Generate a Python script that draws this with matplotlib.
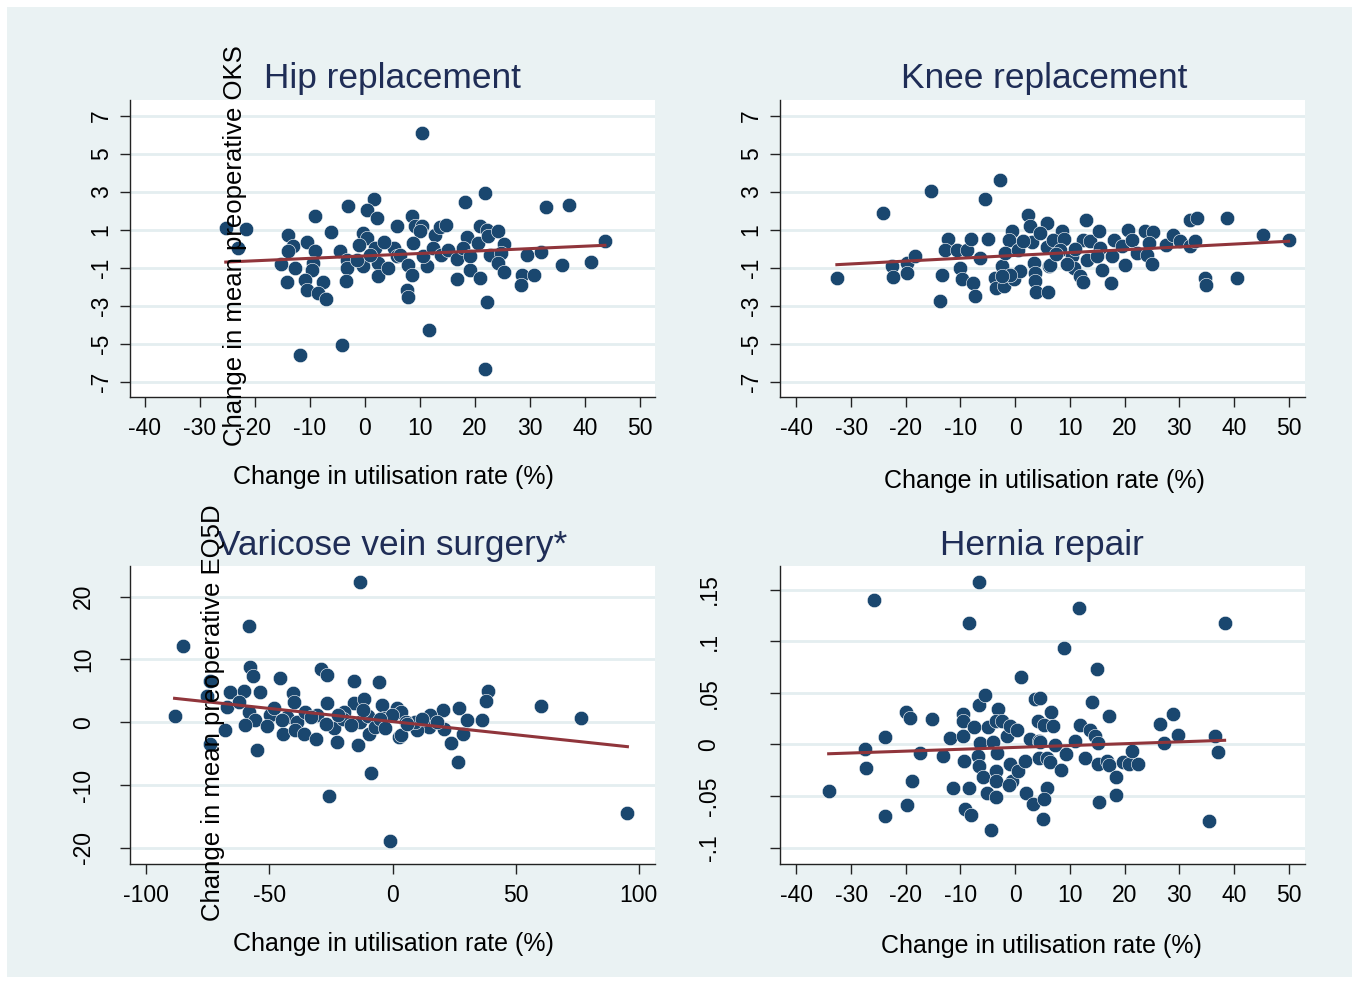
import numpy as np
import matplotlib
matplotlib.use("Agg")
import matplotlib.pyplot as plt
from matplotlib.patches import Rectangle

plt.rcParams['font.family'] = ['Liberation Sans', 'DejaVu Sans']

# ---- data ----
hip_x = [-25.3, -21.6, -23.1, -9.1, -3.0, 1.6, 0.3, 2.2, -6.2, -13.9, -13.0, -13.9, -15.2, -12.7,
         -10.5, -9.1, -9.4, -9.7, -14.1, -10.9, -10.6, -7.7, -8.5, -7.0, -11.8, -4.1, -4.5, -3.3,
         -3.3, -3.5, -0.3, 0.4, 1.8, 2.4, -0.3, -1.5, 2.4, 5.8, 5.2, 5.8,
         10.3, 21.8, 18.2, 32.9, 37.1, 43.6, 8.5, 9.1, 10.3, 10.0, 8.8, 6.4, 7.9, 8.5, 11.2, 10.6,
         7.6, 7.9, 11.7, 12.7, 13.6, 14.7, 12.4, 13.9, 15.0, 16.8, 16.8, 18.6, 17.8, 19.1, 19.0,
         20.9, 22.1, 20.6, 22.4, 22.7, 20.9, 22.1, 21.8, 24.2, 25.2, 24.8, 24.2, 25.2, 29.5, 31.9,
         28.5, 28.4, 30.8, 35.8, 41.1, 3.5, 1.0, 4.2, -1.0]
hip_y = [1.09, 1.05, 0.04, 1.73, 2.26, 2.61, 2.05, 1.61, 0.88, 0.74, 0.12, -0.14, -0.78, -1.01,
         0.35, -0.14, -0.75, -1.10, -1.76, -1.66, -2.15, -1.76, -2.32, -2.67, -5.61, -5.04, -0.14,
         -0.57, -1.0, -1.71, 0.83, 0.56, 0.04, -0.75, -0.93, -0.57, -1.45, 1.17, 0.04, -0.40,
         6.11, 2.93, 2.43, 2.17, 2.31, 0.42, 1.73, 1.17, 1.21, 0.91, 0.30, -0.31, -0.84, -1.36,
         -0.93, -0.40, -2.19, -2.55, -4.25, 0.74, 1.12, 1.26, 0.04, -0.31, -0.09, -0.54, -1.59,
         0.62, 0.04, -0.40, -1.10, 1.21, 1.0, 0.30, 0.65, -0.31, -1.54, -2.82, -6.31, 0.95, 0.25,
         -0.22, -0.75, -1.24, -0.31, -0.19, -1.40, -1.89, -1.36, -0.87, -0.71, 0.35, -0.35, -1.0,
         0.2]

knee_x = [-32.6, -24.2, -22.5, -22.4, -19.8, -19.8, -18.3, -15.4, -13.4, -13.8, -12.2, -12.9,
          -10.7, -8.8, -8.1, -10.1, -9.7, -7.7, -7.3, -6.5, -5.6, -2.7, -5.0, -3.7, -3.5, -2.4,
          -2.1, -0.6, -1.2, -1.8, -0.3, 0.6, 2.3, 2.7, 3.0, 3.4, 3.7, 3.7, 3.8, 5.8, 5.8, 6.1,
          6.0, 0.9, -0.9, -2.4,
          8.5, 7.0, 9.0, 8.2, 6.4, 10.4, 10.7, 11.9, 12.4, 13.0, 12.4, 13.7, 13.1, 15.4, 15.5,
          14.9, 15.8, 17.5, 18.1, 17.7, 19.5, 20.1, 20.7, 21.3, 22.2, 23.8, 25.2, 24.4, 24.1,
          25.0, 27.6, 28.9, 30.2, 31.9, 32.9, 31.9, 33.3, 38.7, 34.7, 34.9, 40.5, 45.4, 50.0,
          7.5, 9.5, 11.0, 4.5, 1.5]
knee_y = [-1.54, 1.87, -0.93, -1.49, -0.75, -1.28, -0.40, 3.01, -1.40, -2.76, 0.53, -0.05,
          -0.05, -0.05, 0.51, -1.01, -1.62, -1.83, -2.50, -0.49, 2.63, 3.62, 0.53, -1.54, -2.06,
          -0.93, -1.97, 0.95, 0.48, -0.22, -1.62, -0.05, 1.79, 1.21, 0.33, -0.75, -1.28, -1.71,
          -2.27, 1.35, 0.10, -0.93, -2.27, -1.19, -1.36, -1.45,
          0.91, 0.48, 0.51, -0.05, -0.84, -0.40, -1.01, -1.45, -1.76, 1.52, 0.48, 0.39, -0.57,
          0.95, 0.04, -0.40, -1.10, -1.80, 0.48, -0.40, 0.12, -0.84, 1.0, 0.48, -0.22, 0.91, 0.88,
          0.30, -0.31, -0.78, 0.21, 0.74, 0.39, 0.12, 0.42, 1.49, 1.61, 1.61, -1.54, -1.89, -1.54,
          0.70, 0.48, -0.3, -0.8, 0.0, 0.8, 0.4]

vein_x = [-13.0, -58.4, -85.2, -88.5, -74.0, -75.3, -74.0, -67.9, -66.1, -67.2, -58.0, -56.6,
          -60.4, -53.7, -62.5, -58.4, -55.7, -59.8, -55.0, -49.6, -48.0, -45.5, -40.4, -39.8,
          -42.8, -38.7, -44.4, -39.7, -35.8, -35.4, -30.9, -29.0, -26.8, -30.6, -26.5, -23.9,
          -22.5, -25.9, -15.7, -15.7, -11.7, -13.9, -5.6, -8.9, -13.0, -9.6, -4.2, -1.2, -19.8,
          -3.5, 1.9, 2.6,
          38.7, 38.1, 60.4, 76.4, 95.4, 20.4, 27.2, 30.4, 36.2, 28.7, 23.6, 26.5, 20.9, 15.4,
          14.8, 9.8, 9.3, 3.3, 3.3, 5.3, -0.1, 18.2,
          -20.0, -17.0, -10.0, -7.0, -5.0, -3.0, -12.0, -22.0, -27.0, -33.0, -45.0, -51.0, 6.0,
          12.0]
vein_y = [22.3, 15.4, 12.2, 1.05, 6.5, 4.1, -3.4, -1.3, 4.8, 2.5, 8.8, 7.3, 4.9, 4.8, 3.3, 1.7,
          0.4, -0.4, -4.4, 1.2, 2.2, 7.1, 4.6, 3.2, 0.9, 0.1, -1.9, -1.3, -1.8, 1.7, -2.7, 8.5,
          7.5, 1.2, 3.0, -1.0, -3.2, -11.8, 6.5, 3.0, 3.7, -3.7, 6.4, -8.1, 0.1, -1.8, 2.8, -19.0,
          1.7, 0.6, 2.2, -2.3,
          4.9, 3.4, 2.6, 0.6, -14.4, 2.0, 2.2, 0.4, 0.4, -1.8, -3.3, -6.3, -1.1, 1.2, -0.8, -1.2,
          0.1, 1.7, -2.1, 0.1, 1.2, 0.1,
          0.5, -0.5, 1.0, -0.8, 0.5, -1.0, 2.0, 1.2, -0.3, 0.8, 0.3, -0.6, -0.3, 0.5]

hernia_x = [-25.8, -6.7, -8.5, 1.0, -34.1, -27.5, -23.8, -27.2, -23.8, -19.9, -19.3, -18.9,
            -19.8, -15.2, -17.4, -13.2, -12.0, -9.5, -9.6, -9.5, -11.3, -9.1, -8.1, -9.3, -8.4,
            -7.5, -6.7, -5.6, -6.4, -6.8, -6.7, -5.9, -5.1, -4.4, -3.2, -4.9, -3.5, -4.1, -3.3,
            -3.5, -3.5, -3.5, -2.4, -1.5, -0.9, 0.3, -1.0, -0.6, -1.2, 0.6, 1.8, 2.0, 3.7, 4.1,
            5.2, 2.7, 4.3, 4.4, 3.3, 5.1, 5.8,
            11.6, 38.3, 9.0, 14.9, 14.1, 17.2, 6.5, 7.0, 11.8, 13.7, 14.6, 15.2, 11.0, 7.3, 4.6,
            9.3, 5.8, 6.3, 8.4, 12.8, 15.2, 16.8, 17.1, 18.5, 18.5, 15.4, 19.7, 20.9, 22.4, 21.4,
            26.5, 28.8, 29.7, 27.2, 36.6, 37.0, 35.5, 5.2, 4.6]
hernia_y = [0.140, 0.157, 0.118, 0.065, -0.045, -0.004, 0.007, -0.023, -0.069, 0.031, 0.026,
            -0.035, -0.059, 0.025, -0.008, -0.011, 0.006, 0.008, 0.029, 0.023, -0.042, -0.063,
            -0.068, -0.016, -0.042, 0.017, 0.038, 0.048, 0.001, -0.011, -0.021, -0.032, -0.047,
            -0.083, 0.034, 0.017, 0.023, 0.002, -0.008, -0.026, -0.035, -0.051, 0.023, 0.008,
            0.018, 0.014, -0.019, -0.035, -0.039, -0.026, -0.016, -0.047, 0.044, 0.023, 0.019,
            0.005, 0.003, -0.013, -0.058, -0.072, -0.042,
            0.132, 0.118, 0.093, 0.073, 0.041, 0.028, 0.031, 0.018, 0.019, 0.014, 0.008, 0.001,
            0.003, -0.001, 0.002, -0.009, -0.013, -0.017, -0.025, -0.013, -0.019, -0.016, -0.020,
            -0.032, -0.049, -0.056, -0.017, -0.019, -0.019, -0.006, 0.020, 0.029, 0.009, 0.001,
            0.008, -0.007, -0.074, -0.053, 0.045]

# fitted lines (intercept, slope)
hip_fit = (-0.38, 0.0128)
knee_fit = (-0.354, 0.0149)
vein_fit = (0.10, -0.0419)
hernia_fit = (-0.0029, 0.00018)

titles = ['Hip replacement', 'Knee replacement', 'Varicose vein surgery*', 'Hernia repair']
xlabel = 'Change in utilisation rate (%)'
oks_label = 'Change in mean preoperative OKS'
eq5d_label = 'Change in mean preoperative EQ5D'

ticks_pct = [-40, -30, -20, -10, 0, 10, 20, 30, 40, 50]
ticks_vein_x = [-100, -50, 0, 50, 100]
ticks_oks = [-7, -5, -3, -1, 1, 3, 5, 7]
ticks_eq_vein = [-20, -10, 0, 10, 20]
ticks_eq_hernia = [-0.1, -0.05, 0, 0.05, 0.1, 0.15]
labels_eq_hernia = ['-.1', '-.05', '0', '.05', '.1', '.15']

# ---- styling ----
W, H = 1357, 981
BG = '#eaf2f3'
GRID = '#e4eef0'
NAVY = '#1a476f'
MAROON = '#90353b'
TITLE_C = '#1f2d56'

fig = plt.figure(figsize=(W / 100, H / 100), dpi=100)
fig.patch.set_facecolor('white')
fig.patches.append(Rectangle((7 / W, 1 - 977 / H), 1345 / W, 970 / H,
                             transform=fig.transFigure, facecolor=BG,
                             edgecolor='none', zorder=-10))


def px_axes(left, top, right, bottom):
    return fig.add_axes([left / W, 1 - bottom / H, (right - left) / W, (bottom - top) / H])


def style(ax, xt, xtl, yt, ytl, xlim, ylim, ypad):
    ax.set_facecolor('white')
    for s in ['top', 'right']:
        ax.spines[s].set_visible(False)
    for s in ['left', 'bottom']:
        ax.spines[s].set_color('#222222')
        ax.spines[s].set_linewidth(1.0)
    ax.set_xlim(*xlim)
    ax.set_ylim(*ylim)
    ax.set_xticks(xt, xtl)
    ax.set_yticks(yt, ytl, rotation=90, va='center')
    ax.tick_params(axis='both', direction='out', length=7.2, width=1.0, color='#222222',
                   labelsize=16.5)
    ax.tick_params(axis='x', pad=7.5)
    ax.tick_params(axis='y', pad=ypad)
    for t in yt:
        ax.axhline(t, color=GRID, lw=2.0, zorder=0.5)


def panel(ax, x, y, fit):
    ax.scatter(x, y, s=108, color=NAVY, edgecolors='white', linewidths=0.4, zorder=2)
    xs = np.array([min(x), max(x)])
    ax.plot(xs, fit[0] + fit[1] * xs, color=MAROON, lw=2.2, zorder=3)


ax1 = px_axes(130, 100, 655, 397)
panel(ax1, hip_x, hip_y, hip_fit)
style(ax1, ticks_pct, [str(t) for t in ticks_pct], ticks_oks, [str(t) for t in ticks_oks],
      (-42.7, 52.7), (-7.8, 7.82), 5.3)

ax2 = px_axes(780, 100, 1305, 397)
panel(ax2, knee_x, knee_y, knee_fit)
style(ax2, ticks_pct, [str(t) for t in ticks_pct], ticks_oks, [str(t) for t in ticks_oks],
      (-43.0, 53.0), (-7.8, 7.82), 5.3)

ax3 = px_axes(130, 566, 655, 864)
panel(ax3, vein_x, vein_y, vein_fit)
style(ax3, ticks_vein_x, [str(t) for t in ticks_vein_x], ticks_eq_vein,
      [str(t) for t in ticks_eq_vein], (-106.6, 106.6), (-22.6, 24.9), 17.8)

ax4 = px_axes(780, 566, 1305, 864)
panel(ax4, hernia_x, hernia_y, hernia_fit)
style(ax4, ticks_pct, [str(t) for t in ticks_pct], ticks_eq_hernia, labels_eq_hernia,
      (-43.0, 53.0), (-0.1158, 0.1728), 35.6)


def ftext(x, y, s, **kw):
    fig.text(x / W, 1 - y / H, s, **kw)


# titles
ftext(392, 88, titles[0], ha='center', va='baseline', fontsize=25.4, color=TITLE_C)
ftext(1044, 88, titles[1], ha='center', va='baseline', fontsize=25.4, color=TITLE_C)
ftext(392, 555, titles[2], ha='center', va='baseline', fontsize=25.4, color=TITLE_C)
ftext(1042, 555, titles[3], ha='center', va='baseline', fontsize=25.4, color=TITLE_C)

# x labels
ftext(393.5, 484, xlabel, ha='center', va='baseline', fontsize=18, color='black')
ftext(1044, 488, xlabel, ha='center', va='baseline', fontsize=18, color='black')
ftext(393.5, 951, xlabel, ha='center', va='baseline', fontsize=18, color='black')
ftext(1041, 953, xlabel, ha='center', va='baseline', fontsize=18, color='black')

# y labels (overlapping the panels, as in the original)
ftext(235, 246, oks_label, ha='center', va='center', rotation=90, fontsize=18.5,
      color='black', zorder=10)
ftext(213, 713, eq5d_label, ha='center', va='center', rotation=90, fontsize=18.5,
      color='black', zorder=10)

fig.savefig('out.png', dpi=100, facecolor='white')
